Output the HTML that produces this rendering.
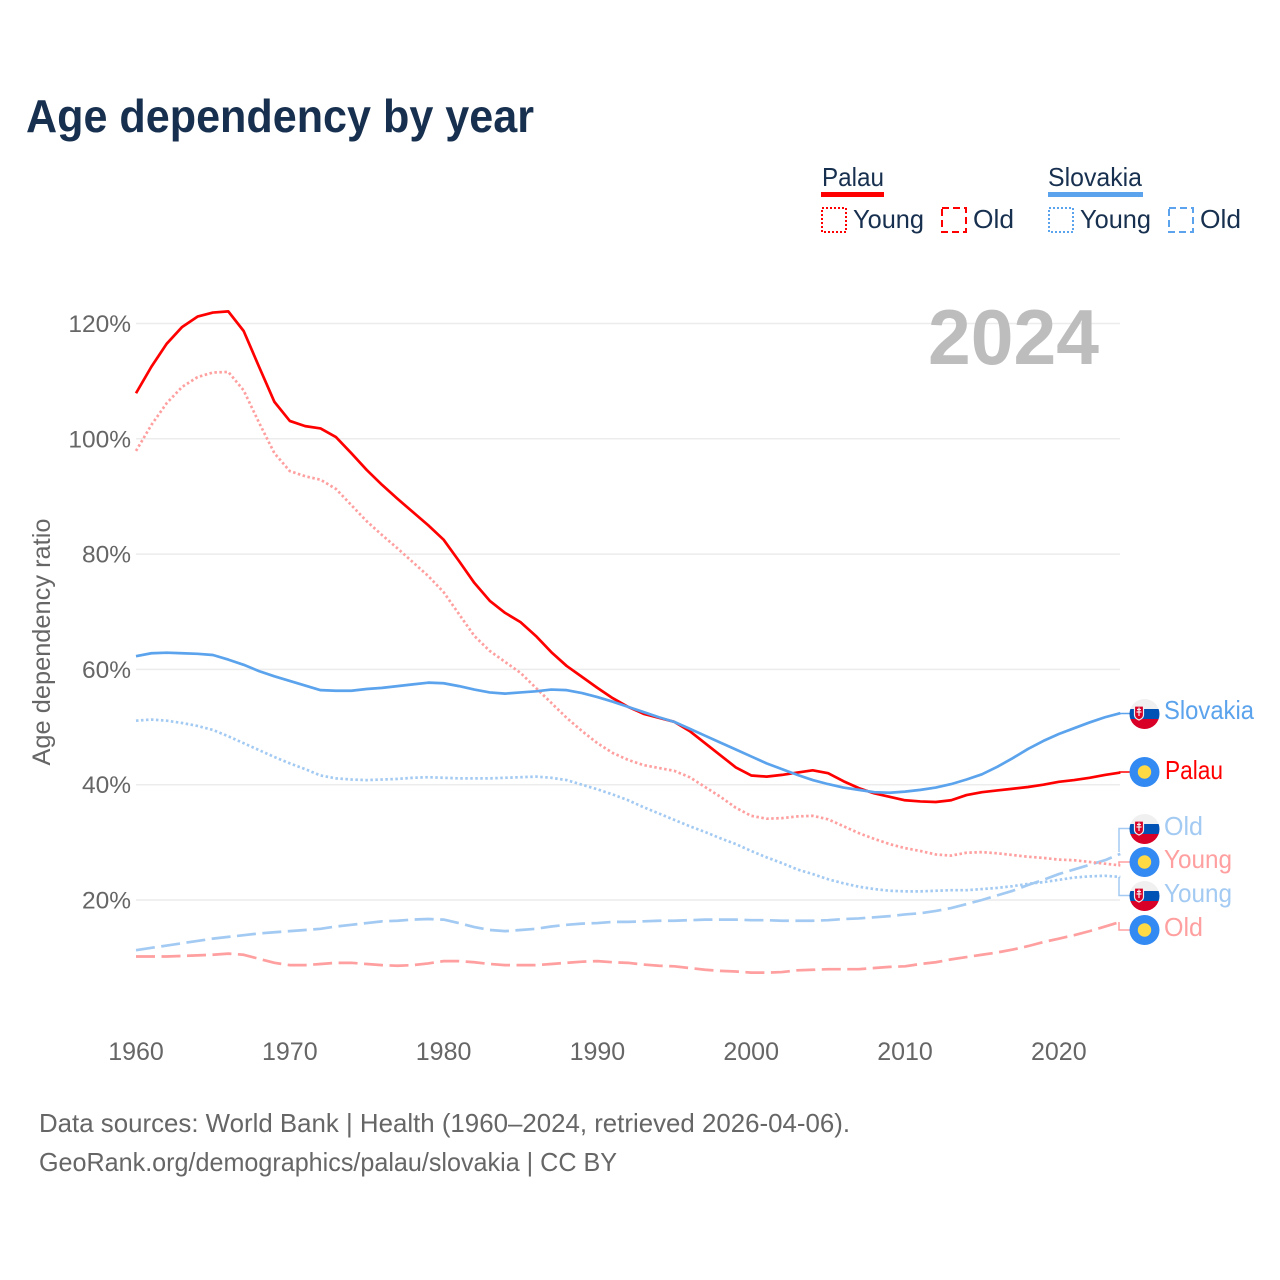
<!DOCTYPE html>
<html lang="en">
<head>
<meta charset="utf-8">
<title>Age dependency by year</title>
<style>
html,body{margin:0;padding:0;background:#fff;width:1280px;height:1280px;overflow:hidden}
svg{display:block}
text{font-family:"Liberation Sans",sans-serif}
</style>
</head>
<body>
<svg id="chart" xmlns="http://www.w3.org/2000/svg" width="1280" height="1280" viewBox="0 0 1280 1280">
  <rect width="1280" height="1280" fill="#fff"/>
  <text x="26" y="132" font-size="46" font-weight="700" fill="#18304f" textLength="508" lengthAdjust="spacingAndGlyphs">Age dependency by year</text>

  <g>
    <text x="822" y="186" font-size="26" fill="#18304f" textLength="62" lengthAdjust="spacingAndGlyphs">Palau</text>
    <rect x="821" y="192" width="63" height="5" fill="#ff0000"/>
    <rect x="822" y="208" width="24" height="24" fill="none" stroke="#ff0000" stroke-width="2" stroke-dasharray="2 2"/>
    <text x="853" y="228" font-size="26" fill="#18304f" textLength="71" lengthAdjust="spacingAndGlyphs">Young</text>
    <rect x="942" y="208" width="24" height="24" fill="none" stroke="#ff0000" stroke-width="2" stroke-dasharray="7 4"/>
    <text x="973" y="228" font-size="26" fill="#18304f" textLength="41" lengthAdjust="spacingAndGlyphs">Old</text>
    <text x="1048" y="186" font-size="26" fill="#18304f" textLength="94" lengthAdjust="spacingAndGlyphs">Slovakia</text>
    <rect x="1048" y="192" width="95" height="5" fill="#5ba3ec"/>
    <rect x="1049" y="208" width="24" height="24" fill="none" stroke="#5ba3ec" stroke-width="2" stroke-dasharray="2 2"/>
    <text x="1080" y="228" font-size="26" fill="#18304f" textLength="71" lengthAdjust="spacingAndGlyphs">Young</text>
    <rect x="1169" y="208" width="24" height="24" fill="none" stroke="#5ba3ec" stroke-width="2" stroke-dasharray="7 4"/>
    <text x="1200" y="228" font-size="26" fill="#18304f" textLength="41" lengthAdjust="spacingAndGlyphs">Old</text>
  </g>

  <g id="grid"></g>
  <g id="yticks"></g>
  <g id="xticks"></g>
  <text transform="translate(50,642) rotate(-90)" text-anchor="middle" font-size="25" fill="#666" textLength="247" lengthAdjust="spacingAndGlyphs">Age dependency ratio</text>
  <text x="1099" y="364" text-anchor="end" font-size="78" font-weight="700" fill="#bdbdbd" textLength="171" lengthAdjust="spacingAndGlyphs">2024</text>
  <g id="series"></g>

  <g fill="none" stroke-width="1.5">
    <path d="M1119 713.5H1130" stroke="#5ba3ec"/>
    <path d="M1119 772H1130" stroke="#ff0000"/>
    <path d="M1119 852V828.5H1130" stroke="#a3caf2"/>
    <path d="M1119 866V862H1130" stroke="#ff9f9f"/>
    <path d="M1119 877V895.5H1130" stroke="#a3caf2"/>
    <path d="M1119 922V930H1130" stroke="#ff9f9f"/>
  </g>

  <defs>
    <clipPath id="flagclip"><circle cx="0" cy="0" r="15"/></clipPath>
    <g id="flag-sk" clip-path="url(#flagclip)">
      <rect x="-15" y="-15" width="30" height="10" fill="#f0f0f0"/>
      <rect x="-15" y="-5" width="30" height="10" fill="#0052b4"/>
      <rect x="-15" y="5" width="30" height="10" fill="#d80027"/>
      <path d="M-10 -8H-1V1C-1 4.5 -5.5 6 -5.5 6C-5.5 6 -10 4.5 -10 1Z" fill="#d80027" stroke="#f0f0f0" stroke-width="1.2"/>
      <path d="M-5.5 -6.5V2M-7.5 -4.5H-3.5M-8 -2H-3" stroke="#f0f0f0" stroke-width="1.2" fill="none"/>
    </g>
    <g id="flag-pw">
      <circle r="15" fill="#338af3"/>
      <circle r="6.7" fill="#ffda44"/>
    </g>
  </defs>

  <g>
    <use href="#flag-sk" x="1144.5" y="714"/>
    <text x="1164" y="719" font-size="26" fill="#5ba3ec" textLength="90" lengthAdjust="spacingAndGlyphs">Slovakia</text>
    <use href="#flag-pw" x="1144.5" y="772"/>
    <text x="1165" y="779" font-size="26" fill="#ff0000" textLength="58" lengthAdjust="spacingAndGlyphs">Palau</text>
    <use href="#flag-sk" x="1144.5" y="829"/>
    <text x="1164" y="835" font-size="26" fill="#a3caf2" textLength="39" lengthAdjust="spacingAndGlyphs">Old</text>
    <use href="#flag-pw" x="1144.5" y="862"/>
    <text x="1164" y="868" font-size="26" fill="#ff9f9f" textLength="68" lengthAdjust="spacingAndGlyphs">Young</text>
    <use href="#flag-sk" x="1144.5" y="896"/>
    <text x="1164" y="902" font-size="26" fill="#a3caf2" textLength="68" lengthAdjust="spacingAndGlyphs">Young</text>
    <use href="#flag-pw" x="1144.5" y="930"/>
    <text x="1164" y="936" font-size="26" fill="#ff9f9f" textLength="39" lengthAdjust="spacingAndGlyphs">Old</text>
  </g>

  <text x="39" y="1132" font-size="26" fill="#666" textLength="811" lengthAdjust="spacingAndGlyphs">Data sources: World Bank | Health (1960–2024, retrieved 2026-04-06).</text>
  <text x="39" y="1171" font-size="26" fill="#666" textLength="578" lengthAdjust="spacingAndGlyphs">GeoRank.org/demographics/palau/slovakia | CC BY</text>
</svg>

<script>
const startYear = 1960;
const yTickValues = [20, 40, 60, 80, 100, 120];
const xTickValues = [1960, 1970, 1980, 1990, 2000, 2010, 2020];

const palauTotal = [107.9,112.5,116.5,119.4,121.2,121.9,122.1,118.7,112.5,106.4,103.1,102.2,101.8,100.3,97.5,94.6,92,89.6,87.3,85,82.5,78.8,75,71.9,69.8,68.2,65.8,63,60.6,58.7,56.8,55,53.5,52.3,51.6,50.9,49.3,47.2,45.1,43,41.6,41.4,41.7,42.1,42.5,42,40.6,39.4,38.5,37.9,37.3,37.1,37,37.3,38.2,38.7,39,39.3,39.6,40,40.5,40.8,41.2,41.7,42.1];
const palauYoung = [97.9,102.4,106.2,109,110.7,111.5,111.6,108.4,102.8,97.5,94.4,93.5,92.9,91.3,88.5,85.7,83.3,81,78.6,76.2,73.4,69.6,65.8,63.2,61.3,59.4,56.8,54.2,51.6,49.3,47.2,45.5,44.3,43.4,42.9,42.4,41.3,39.6,37.9,36,34.6,34.1,34.2,34.5,34.6,34,32.8,31.6,30.6,29.7,29,28.5,27.9,27.7,28.2,28.3,28.1,27.8,27.5,27.3,27,26.9,26.6,26.3,26];
const palauOld = [10.2,10.2,10.2,10.3,10.4,10.5,10.7,10.5,9.8,9.1,8.7,8.7,8.9,9.1,9.1,8.9,8.7,8.6,8.7,9,9.4,9.4,9.2,8.9,8.7,8.7,8.7,8.9,9.1,9.3,9.4,9.2,9.1,8.8,8.6,8.5,8.2,7.9,7.7,7.6,7.4,7.4,7.5,7.8,7.9,8,8,8,8.2,8.4,8.5,8.9,9.2,9.7,10.1,10.5,10.9,11.4,12,12.7,13.3,13.9,14.6,15.4,16.2];
const slovakiaTotal = [62.3,62.8,62.9,62.8,62.7,62.5,61.7,60.8,59.7,58.8,58,57.2,56.4,56.3,56.3,56.6,56.8,57.1,57.4,57.7,57.6,57.1,56.5,56,55.8,56,56.2,56.5,56.4,55.9,55.2,54.4,53.5,52.6,51.7,50.9,49.7,48.5,47.3,46.1,44.9,43.7,42.7,41.7,40.8,40.1,39.5,39.1,38.7,38.6,38.8,39.1,39.5,40.1,40.9,41.8,43.1,44.6,46.2,47.6,48.8,49.8,50.8,51.7,52.4];
const slovakiaYoung = [51.1,51.3,51.1,50.7,50.2,49.5,48.4,47.2,46,44.8,43.7,42.7,41.6,41.1,40.9,40.8,40.9,41,41.2,41.3,41.2,41.1,41.1,41.1,41.2,41.3,41.4,41.2,40.8,40,39.2,38.3,37.3,36.1,35,33.9,32.8,31.8,30.7,29.7,28.5,27.4,26.4,25.3,24.5,23.6,22.9,22.3,21.9,21.6,21.5,21.5,21.6,21.7,21.7,21.9,22.1,22.4,22.8,23.1,23.5,23.9,24.1,24.2,24];
const slovakiaOld = [11.3,11.7,12.1,12.5,12.9,13.3,13.6,13.9,14.2,14.4,14.6,14.8,15,15.4,15.7,16,16.3,16.4,16.6,16.7,16.6,16,15.3,14.8,14.6,14.8,15,15.4,15.7,15.9,16,16.2,16.2,16.3,16.4,16.4,16.5,16.6,16.6,16.6,16.5,16.5,16.4,16.4,16.4,16.5,16.7,16.8,17,17.2,17.5,17.7,18.1,18.6,19.3,20,20.8,21.6,22.6,23.5,24.5,25.3,26.1,26.9,28];

const SVG_NS = 'http://www.w3.org/2000/svg';
function xScale(year) { return 136 + (year - 1960) * 15.38; }
function yScale(value) { return 1015.3 - value * 5.765; }

const gridGroup = document.getElementById('grid');
const yTickGroup = document.getElementById('yticks');
const xTickGroup = document.getElementById('xticks');
const seriesGroup = document.getElementById('series');

yTickValues.forEach(function (v) {
  const line = document.createElementNS(SVG_NS, 'line');
  
  
  line.setAttribute('x1', 136);
  line.setAttribute('x2', 1120);
  line.setAttribute('y1', yScale(v));
  line.setAttribute('y2', yScale(v));
  line.setAttribute('stroke', '#ececec');
  line.setAttribute('stroke-width', 1.5);
  gridGroup.appendChild(line);

  const label = document.createElementNS(SVG_NS, 'text');
  
  
  label.setAttribute('x', 131);
  label.setAttribute('y', yScale(v) + 8.5);
  label.setAttribute('text-anchor', 'end');
  label.setAttribute('font-size', 24.5);
  label.setAttribute('fill', '#666');
  label.textContent = v + '%';
  yTickGroup.appendChild(label);
});

xTickValues.forEach(function (year) {
  const label = document.createElementNS(SVG_NS, 'text');
  
  
  label.setAttribute('x', xScale(year));
  label.setAttribute('y', 1060);
  label.setAttribute('text-anchor', 'middle');
  label.setAttribute('font-size', 25);
  label.setAttribute('fill', '#666');
  label.textContent = String(year);
  xTickGroup.appendChild(label);
});

function drawLine(name, values, color, width, dash) {
  const points = values.map(function (v, i) {
    return xScale(startYear + i).toFixed(2) + ',' + yScale(v).toFixed(2);
  }).join(' ');
  const line = document.createElementNS(SVG_NS, 'polyline');
  
  
  line.setAttribute('points', points);
  line.setAttribute('fill', 'none');
  line.setAttribute('stroke', color);
  line.setAttribute('stroke-width', width);
  line.setAttribute('stroke-linejoin', 'round');
  if (dash) line.setAttribute('stroke-dasharray', dash);
  seriesGroup.appendChild(line);
}

drawLine('line-palau-old', palauOld, '#ff9f9f', 2.7, '19 6.5');
drawLine('line-slovakia-old', slovakiaOld, '#a3caf2', 2.7, '19 6.5');
drawLine('line-palau-young', palauYoung, '#ff9f9f', 2.7, '2.5 2.5');
drawLine('line-slovakia-young', slovakiaYoung, '#a3caf2', 2.7, '2.5 2.5');
drawLine('line-palau-total', palauTotal, '#ff0000', 2.7, '');
drawLine('line-slovakia-total', slovakiaTotal, '#5ba3ec', 2.7, '');
</script>
</body>
</html>
